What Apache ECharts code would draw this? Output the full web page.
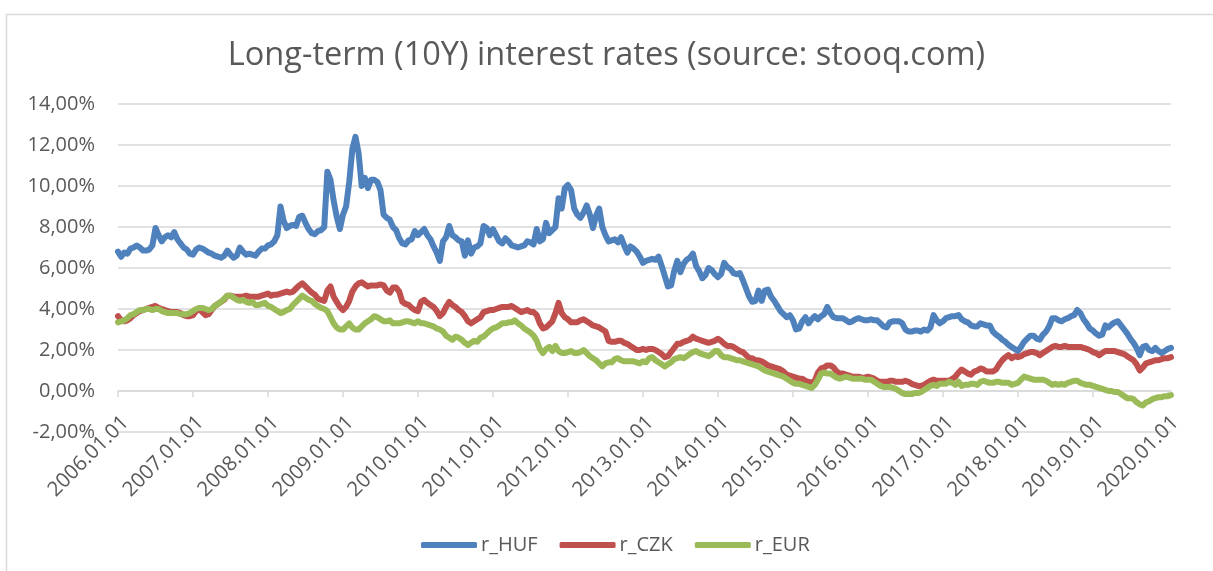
<!DOCTYPE html>
<html>
<head>
<meta charset="utf-8">
<script src="https://cdn.jsdelivr.net/npm/echarts@6/dist/echarts.min.js"></script>
<style>
  html, body { margin: 0; padding: 0; background: #fff; }
  #chart { width: 1213px; height: 571px; }
</style>
</head>
<body>
<div id="chart"></div>
<script>
// half-monthly readings, 2006.01.01 .. 2020.01.16
var seriesNames = ['r_HUF', 'r_CZK', 'r_EUR'];
var seriesColors = ['#4f81bd', '#c0504d', '#9bbb59'];

var rHUF = [
    6.8,6.55,6.75,6.7,6.95,7.0,7.1,7.0,6.85,6.85,6.9,7.1, 7.95,7.6,7.3,7.5,7.6,7.5,7.75,7.4,7.2,7.0,6.9,6.7,
    6.65,6.9,7.0,6.95,6.85,6.75,6.7,6.6,6.55,6.5,6.6,6.85, 6.65,6.5,6.6,7.0,6.8,6.65,6.7,6.65,6.6,6.8,6.95,6.95,
    7.1,7.15,7.3,7.6,9.0,8.3,7.95,8.05,8.1,8.05,8.5,8.55, 8.2,7.9,7.7,7.65,7.8,7.85,8.0,10.7,10.3,9.3,8.5,7.9,
    8.6,9.0,10.2,11.8,12.4,11.6,10.0,10.4,9.9,10.3,10.3,10.2, 9.8,8.6,8.45,8.35,8.0,7.85,7.45,7.2,7.15,7.35,7.4,7.8,
    7.6,7.75,7.9,7.6,7.4,7.05,6.75,6.35,7.3,7.5,8.05,7.6, 7.5,7.35,7.3,6.6,7.35,6.7,7.0,7.05,7.2,8.05,7.95,7.6,
    7.9,7.6,7.3,7.2,7.45,7.3,7.1,7.05,7.0,7.05,7.1,7.3, 7.25,7.15,7.9,7.3,7.4,8.2,7.7,7.85,8.0,9.4,8.9,9.9,
    10.05,9.8,8.9,8.6,8.45,8.7,9.05,8.6,7.95,8.55,8.9,8.0, 7.6,7.3,7.35,7.4,7.25,7.5,7.1,6.75,7.05,6.95,6.8,6.55,
    6.25,6.35,6.4,6.45,6.4,6.55,6.1,5.6,5.1,5.15,5.85,6.35, 5.8,6.2,6.4,6.5,6.7,6.1,5.85,5.5,5.65,6.0,5.9,5.7,
    5.55,5.7,6.25,6.05,5.95,5.75,5.7,5.75,5.4,5.0,4.6,4.35, 4.4,4.9,4.4,4.9,4.95,4.6,4.4,4.15,3.9,3.75,3.6,3.7,
    3.45,3.0,3.05,3.4,3.6,3.3,3.5,3.65,3.5,3.65,3.75,4.1, 3.8,3.6,3.55,3.55,3.55,3.45,3.35,3.4,3.5,3.55,3.5,3.45,
    3.45,3.5,3.45,3.45,3.3,3.15,3.1,3.35,3.4,3.4,3.4,3.3, 3.0,2.9,2.9,2.95,2.95,2.9,3.0,2.95,3.1,3.7,3.45,3.3,
    3.4,3.55,3.6,3.65,3.65,3.7,3.5,3.4,3.35,3.2,3.15,3.15, 3.3,3.25,3.2,3.2,2.9,2.75,2.65,2.5,2.4,2.25,2.15,2.05,
    1.95,2.15,2.4,2.55,2.7,2.7,2.55,2.5,2.75,2.9,3.15,3.55, 3.55,3.45,3.4,3.5,3.55,3.65,3.7,3.95,3.8,3.5,3.3,3.05,
    2.95,2.8,2.7,2.75,3.2,3.1,3.25,3.35,3.4,3.2,3.0,2.8, 2.55,2.35,2.1,1.75,2.15,2.2,2.0,1.95,2.1,1.95,1.85,1.95,
    2.05,2.1
];
var rCZK = [
    3.65,3.45,3.4,3.45,3.55,3.7,3.8,3.9,3.95,4.0,4.05,4.1, 4.15,4.05,4.0,3.95,3.9,3.85,3.85,3.85,3.8,3.7,3.65,3.65,
    3.7,3.9,4.0,3.85,3.7,3.75,3.95,4.15,4.25,4.35,4.45,4.65, 4.65,4.6,4.6,4.6,4.6,4.65,4.6,4.6,4.6,4.6,4.65,4.7,
    4.75,4.65,4.7,4.7,4.75,4.8,4.85,4.8,4.85,5.0,5.15,5.25, 5.1,4.95,4.8,4.7,4.5,4.45,4.4,4.9,5.1,4.6,4.35,4.1,
    3.95,4.1,4.4,4.85,5.1,5.25,5.3,5.2,5.1,5.15,5.15,5.15, 5.2,5.15,4.9,4.8,5.05,5.05,4.85,4.35,4.25,4.2,4.05,3.95,
    3.9,4.35,4.45,4.3,4.2,4.1,3.9,3.65,3.8,4.1,4.35,4.2, 4.1,3.95,3.85,3.65,3.4,3.3,3.4,3.5,3.6,3.85,3.9,3.95,
    3.95,4.0,4.05,4.1,4.1,4.1,4.15,4.05,3.95,3.85,3.9,3.95, 3.85,3.85,3.7,3.3,3.05,3.1,3.25,3.4,3.8,4.3,3.8,3.6,
    3.5,3.35,3.35,3.35,3.45,3.5,3.4,3.3,3.2,3.15,3.1,3.0, 2.9,2.45,2.4,2.4,2.45,2.45,2.35,2.3,2.2,2.1,2.0,2.0,
    2.05,2.0,2.05,2.05,2.0,1.9,1.8,1.65,1.7,1.9,2.1,2.3, 2.3,2.4,2.45,2.5,2.65,2.55,2.5,2.45,2.4,2.35,2.4,2.45,
    2.55,2.45,2.3,2.2,2.2,2.15,2.05,1.95,1.9,1.75,1.6,1.6, 1.5,1.5,1.45,1.35,1.25,1.2,1.15,1.1,1.05,0.95,0.8,0.75,
    0.7,0.65,0.6,0.6,0.5,0.45,0.4,0.5,0.9,1.1,1.15,1.25, 1.25,1.15,0.95,0.85,0.85,0.8,0.75,0.7,0.7,0.7,0.65,0.65,
    0.7,0.65,0.6,0.5,0.45,0.45,0.45,0.5,0.5,0.45,0.45,0.45, 0.5,0.45,0.35,0.3,0.25,0.25,0.3,0.4,0.5,0.55,0.5,0.5,
    0.5,0.5,0.5,0.6,0.7,0.9,1.05,0.95,0.85,0.8,0.95,1.0, 1.1,1.05,0.95,0.95,0.95,1.05,1.3,1.5,1.65,1.75,1.6,1.7,
    1.65,1.7,1.8,1.85,1.9,1.9,1.85,1.75,1.85,1.95,2.05,2.15, 2.2,2.15,2.15,2.2,2.15,2.15,2.15,2.15,2.15,2.1,2.05,2.0,
    1.9,1.85,1.75,1.85,1.95,1.95,1.95,1.95,1.9,1.85,1.8,1.7, 1.6,1.5,1.3,1.0,1.15,1.35,1.4,1.45,1.5,1.5,1.55,1.6,
    1.6,1.65
];
var rEUR = [
    3.35,3.4,3.45,3.55,3.7,3.75,3.85,3.95,3.95,4.0,4.0,3.95, 4.0,4.0,3.9,3.85,3.8,3.8,3.8,3.8,3.75,3.75,3.75,3.8,
    3.9,4.0,4.05,4.05,4.0,3.95,4.0,4.15,4.25,4.35,4.5,4.65, 4.65,4.55,4.45,4.4,4.45,4.35,4.3,4.35,4.2,4.2,4.25,4.3,
    4.15,4.1,4.0,3.9,3.8,3.85,3.95,4.0,4.2,4.35,4.5,4.65, 4.55,4.45,4.4,4.25,4.15,4.05,4.0,3.9,3.6,3.3,3.1,3.0,
    3.0,3.15,3.3,3.1,3.0,3.0,3.15,3.3,3.4,3.5,3.65,3.6, 3.5,3.4,3.4,3.45,3.3,3.3,3.3,3.35,3.4,3.4,3.35,3.3,
    3.4,3.3,3.3,3.25,3.2,3.15,3.05,3.0,2.9,2.7,2.6,2.5, 2.65,2.6,2.5,2.35,2.25,2.35,2.45,2.4,2.6,2.65,2.8,2.95,
    3.05,3.1,3.2,3.3,3.3,3.35,3.35,3.45,3.3,3.2,3.05,2.95, 2.85,2.7,2.45,2.05,1.85,2.05,2.15,1.95,2.2,1.95,1.85,1.85,
    1.9,1.95,1.85,1.85,1.9,2.0,1.85,1.7,1.6,1.5,1.35,1.2, 1.35,1.4,1.4,1.55,1.6,1.5,1.45,1.45,1.45,1.45,1.4,1.35,
    1.45,1.4,1.6,1.65,1.5,1.4,1.3,1.2,1.3,1.4,1.55,1.6, 1.65,1.6,1.7,1.8,1.9,1.95,1.85,1.8,1.75,1.7,1.8,1.95,
    1.95,1.75,1.65,1.65,1.6,1.55,1.5,1.5,1.45,1.4,1.35,1.3, 1.25,1.2,1.1,1.0,0.95,0.9,0.85,0.8,0.75,0.7,0.6,0.5,
    0.4,0.35,0.35,0.3,0.25,0.2,0.15,0.3,0.55,0.85,0.9,0.85, 0.85,0.75,0.65,0.6,0.65,0.7,0.65,0.6,0.6,0.6,0.6,0.55,
    0.55,0.55,0.45,0.35,0.25,0.2,0.2,0.2,0.15,0.1,0.0,-0.1, -0.15,-0.15,-0.15,-0.1,-0.1,-0.05,0.05,0.15,0.25,0.3,0.25,0.35,
    0.35,0.35,0.45,0.4,0.3,0.45,0.25,0.3,0.3,0.35,0.35,0.3, 0.45,0.5,0.45,0.4,0.4,0.45,0.45,0.4,0.4,0.4,0.3,0.35,
    0.4,0.55,0.7,0.65,0.6,0.55,0.55,0.55,0.55,0.5,0.4,0.3, 0.35,0.3,0.35,0.3,0.4,0.45,0.5,0.5,0.4,0.35,0.3,0.3,
    0.25,0.2,0.15,0.1,0.05,0.0,0.0,-0.05,-0.05,-0.15,-0.25,-0.35, -0.35,-0.4,-0.55,-0.65,-0.7,-0.55,-0.5,-0.4,-0.35,-0.3,-0.3,-0.25,
    -0.25,-0.2
];

// category labels: 1st and 16th of every month
var dates = [];
for (var y = 2006; y <= 2020; y++) {
    for (var m = 1; m <= 12; m++) {
        var mm = (m < 10 ? '0' : '') + m;
        dates.push(y + '.' + mm + '.01');
        dates.push(y + '.' + mm + '.16');
    }
}
dates = dates.slice(0, rHUF.length);

var yearStart = function (idx, val) {
    return val.slice(5) === '01.01';
};

var FONT = '"Open Sans", sans-serif';
var GREY = '#595959';
var LINE = '#d9d9d9';

var chart = echarts.init(document.getElementById('chart'));
var values = [rHUF, rCZK, rEUR];
var option = {
    animation: false,
    backgroundColor: '#fff',
    title: {
        text: 'Long-term (10Y) interest rates (source: stooq.com)',
        left: 'center',
        top: 34,
        textStyle: {fontFamily: FONT, fontSize: 32.5, fontWeight: 'normal', color: GREY}
    },
    legend: {
        data: seriesNames,
        icon: 'roundRect',
        left: 416,
        top: 530,
        itemWidth: 56,
        itemHeight: 6,
        itemGap: 22,
        textStyle: {fontFamily: FONT, fontSize: 20, color: GREY, padding: [0, 0, 0, -1]}
    },
    graphic: [{
        type: 'rect',
        shape: {x: 6.5, y: 14.5, width: 1400, height: 800},
        style: {fill: 'none', stroke: LINE, lineWidth: 1.5},
        silent: true
    }],
    grid: {left: 118, right: 42, top: 104, bottom: 139},
    xAxis: {
        type: 'category',
        data: dates,
        boundaryGap: false,
        axisLine: {onZero: true, lineStyle: {color: LINE, width: 1.5}},
        axisTick: {show: true, interval: yearStart, length: 6, lineStyle: {color: LINE, width: 1.5}},
        axisLabel: {
            interval: yearStart,
            rotate: 45,
            margin: -20,
            verticalAlign: 'top',
            fontFamily: FONT,
            fontSize: 20.5,
            color: GREY
        },
        splitLine: {show: false}
    },
    yAxis: {
        type: 'value',
        min: -2,
        max: 14,
        interval: 2,
        axisLine: {show: false},
        axisTick: {show: false},
        axisLabel: {
            margin: 23,
            fontFamily: FONT,
            fontSize: 20,
            color: GREY,
            formatter: function (v) {
                return v.toFixed(2).replace('.', ',') + '%';
            }
        },
        splitLine: {lineStyle: {color: LINE, width: 1.5}}
    },
    series: seriesNames.map(function (name, i) {
        return {
            name: name,
            type: 'line',
            data: values[i],
            symbol: 'none',
            color: seriesColors[i],
            lineStyle: {width: 6, color: seriesColors[i], cap: 'round', join: 'round'}
        };
    })
};
chart.setOption(option);
</script>
</body>
</html>
